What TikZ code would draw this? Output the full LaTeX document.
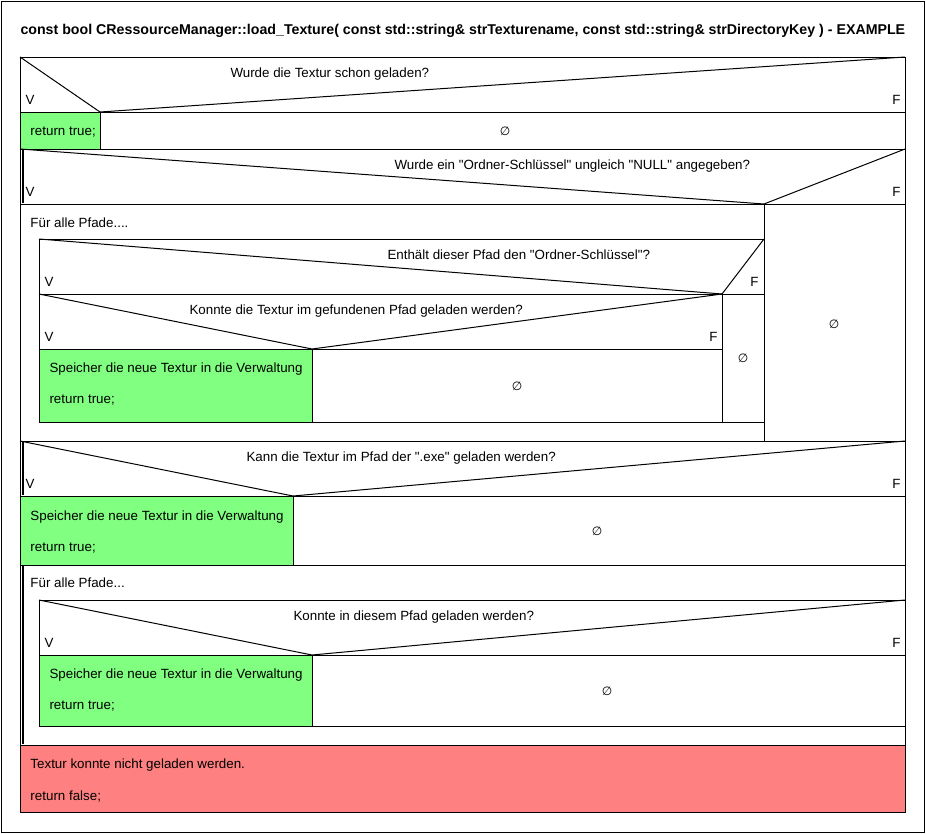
\documentclass[tikz,border=0pt]{standalone}
\usepackage{fontspec}
\setmainfont{Liberation Sans}
\newfontfamily\symf{DejaVu Sans}
\definecolor{nsgreen}{HTML}{80FF80}
\definecolor{nsred}{HTML}{FF8080}
\newcommand{\qq}{\textquotedbl}
\begin{document}
\begin{tikzpicture}[x=1pt,y=-1pt,line width=1pt,
  txt/.style={anchor=base west,inner sep=0pt,font=\fontsize{13.35}{15}\selectfont},
  txtr/.style={anchor=base east,inner sep=0pt,font=\fontsize{13.35}{15}\selectfont},
  ttl/.style={anchor=base west,inner sep=0pt,font=\bfseries\fontsize{14.2}{16}\selectfont},
  nul/.style={inner sep=0pt,font=\symf\fontsize{12}{14}\selectfont},
  cell/.style={draw=black},
  gcell/.style={draw=black,fill=nsgreen},
  rcell/.style={draw=black,fill=nsred},
  bar/.style={line width=2pt}]
\useasboundingbox (0,0) rectangle (926,833);
\draw (1,1) rectangle (924,832);
\node[ttl] (title) at (20,34) {const bool CRessourceManager::load\_Texture( const std::string\& strTexturename, const std::string\& strDirectoryKey ) - EXAMPLE};

% ---- block 1: if
\draw[cell] (20,57) rectangle (905,112);
\draw (20,57) -- (100,112) -- (905,57);
\node[txt] (q1) at (230,77) {Wurde die Textur schon geladen?};
\node[txt] (v1) at (25,104) {V};
\node[txtr] (f1) at (901,104) {F};
\draw[gcell] (20,112) rectangle (100,149);
\node[txt] (r1) at (30,135) {return true;};
\draw[cell] (100,112) rectangle (905,149);
\node[nul] (n1) at (505,131) {∅};

% ---- block 2: if
\draw[cell] (20,149) rectangle (905,204);
\draw (20,149) -- (764,204) -- (905,149);
\draw[bar] (23,150) -- (23,203);
\node[txt] (q2) at (394,169) {Wurde ein \qq Ordner-Schlüssel\qq{} ungleich \qq NULL\qq{} angegeben?};
\node[txt] (v2) at (25,196) {V};
\node[txtr] (f2) at (901,196) {F};
% V branch: loop
\draw[cell] (20,204) rectangle (764,441);
\node[txt] (l1) at (30,227) {Für alle Pfade....};
% if E
\draw[cell] (39,239) rectangle (764,294);
\draw (39,239) -- (722,294) -- (764,239);
\node[txt] (q3) at (387,259) {Enthält dieser Pfad den \qq Ordner-Schlüssel\qq?};
\node[txt] (v3) at (44,286) {V};
\node[txtr] (f3) at (759,286) {F};
\draw[cell] (722,294) rectangle (764,422);
\node[nul] (n3) at (743,358) {∅};
% if K
\draw[cell] (39,294) rectangle (722,349);
\draw (39,294) -- (312,349) -- (722,294);
\node[txt] (q4) at (189,314) {Konnte die Textur im gefundenen Pfad geladen werden?};
\node[txt] (v4) at (44,341) {V};
\node[txtr] (f4) at (718,341) {F};
\draw[gcell] (39,349) rectangle (312,422);
\node[txt] (s4) at (49,372) {Speicher die neue Textur in die Verwaltung};
\node[txt] (r4) at (49,403) {return true;};
\draw[cell] (312,349) rectangle (722,422);
\node[nul] (n4) at (517,386) {∅};
% F branch
\draw[cell] (764,204) rectangle (905,441);
\node[nul] (n2) at (834,324) {∅};

% ---- block 3: if
\draw[cell] (20,441) rectangle (905,496);
\draw (20,441) -- (293,496) -- (905,441);
\draw[bar] (23,442) -- (23,495);
\node[txt] (q5) at (246,461) {Kann die Textur im Pfad der \qq.exe\qq{} geladen werden?};
\node[txt] (v5) at (25,488) {V};
\node[txtr] (f5) at (901,488) {F};
\draw[gcell] (20,496) rectangle (293,565);
\node[txt] (s5) at (30,520) {Speicher die neue Textur in die Verwaltung};
\node[txt] (r5) at (30,551) {return true;};
\draw[cell] (293,496) rectangle (905,565);
\node[nul] (n5) at (597,531) {∅};

% ---- block 4: loop
\draw[cell] (20,565) rectangle (905,745);
\draw[bar] (23,566) -- (23,744);
\node[txt] (l2) at (30,587) {Für alle Pfade...};
\draw[cell] (39,600) rectangle (905,655);
\draw (39,600) -- (312,655) -- (905,600);
\node[txt] (q6) at (293,620) {Konnte in diesem Pfad geladen werden?};
\node[txt] (v6) at (44,647) {V};
\node[txtr] (f6) at (901,647) {F};
\draw[gcell] (39,655) rectangle (312,726);
\node[txt] (s6) at (49,678) {Speicher die neue Textur in die Verwaltung};
\node[txt] (r6) at (49,709) {return true;};
\draw[cell] (312,655) rectangle (905,726);
\node[nul] (n6) at (607,691) {∅};

% ---- block 5: red
\draw[rcell] (20,745) rectangle (905,812);
\node[txt] (e1) at (30,768) {Textur konnte nicht geladen werden.};
\node[txt] (e2) at (30,800) {return false;};
\end{tikzpicture}
\end{document}
